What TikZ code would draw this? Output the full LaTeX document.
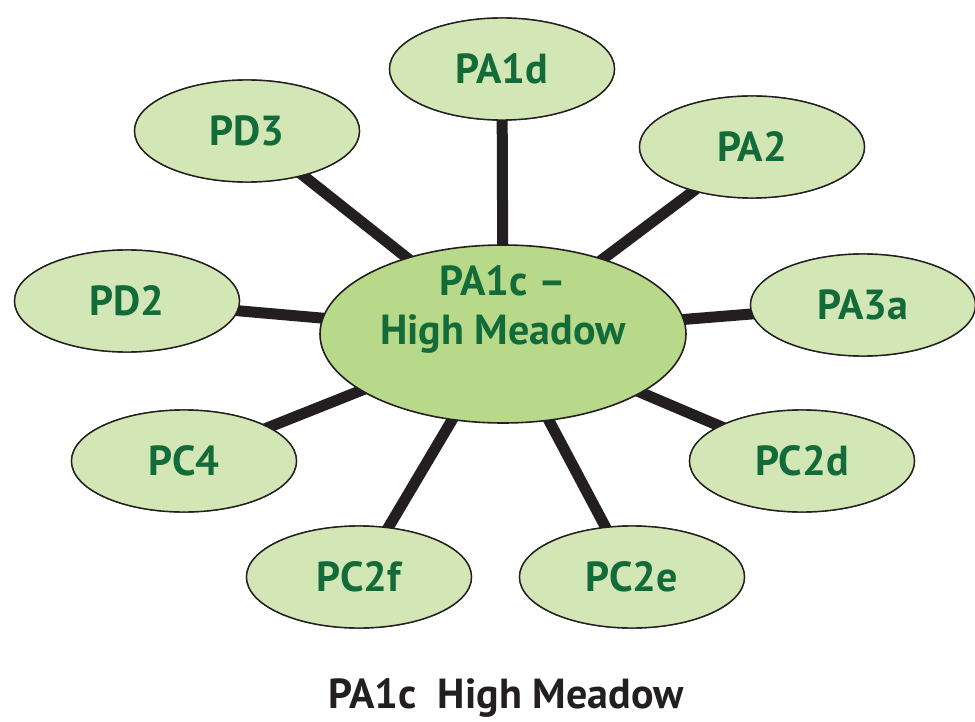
\documentclass[tikz,border=0pt]{standalone}
\usepackage{fontspec}
\setmainfont{PT Sans}
\usetikzlibrary{shapes.geometric}
\definecolor{leaffill}{HTML}{D3E6B5}
\definecolor{hubfill}{HTML}{B8D98A}
\definecolor{labelgreen}{HTML}{146B3A}
\definecolor{spoke}{HTML}{231F20}
\tikzset{
  outer/.style={ellipse, draw=spoke, line width=1.4pt, fill=leaffill,
    minimum width=225pt, minimum height=102pt, inner sep=0pt,
    font=\fontsize{42}{48}\selectfont\bfseries, text=labelgreen},
  hub/.style={ellipse, draw=spoke, line width=1.6pt, fill=hubfill,
    minimum width=366pt, minimum height=178pt, inner sep=0pt},
  hubtext/.style={align=center, font=\fontsize{42}{49}\selectfont\bfseries,
    text=labelgreen, inner sep=0pt},
  link/.style={draw=spoke, line width=11pt},
  caption/.style={font=\fontsize{42}{48}\selectfont\bfseries, text=spoke, inner sep=0pt}
}
\begin{document}
\begin{tikzpicture}[x=1pt,y=-1pt]
\useasboundingbox (0,0) rectangle (975,722);
% outer ring of areas
\node[outer] (pa1d) at (502,69) {PA1d};
\node[outer] (pd3)  at (247,131) {PD3};
\node[outer] (pa2)  at (752,147) {PA2};
\node[outer] (pd2)  at (127,301) {PD2};
\node[outer] (pa3a) at (863,305) {PA3a};
\node[outer] (pc4)  at (184,461) {PC4};
\node[outer] (pc2d) at (802,461) {PC2d};
\node[outer] (pc2f) at (359,577) {PC2f};
\node[outer] (pc2e) at (632,577) {PC2e};
% central area
\coordinate (mid) at (503,334);
% spokes from the centre to each outer area
\foreach \n in {pa1d,pd3,pa2,pd2,pa3a,pc4,pc2d,pc2f,pc2e}
  \path[link] (mid) -- (\n.center);
% redraw outer ellipses over the spokes
\node[outer] at (pa1d) {PA1d};
\node[outer] at (pd3) {PD3};
\node[outer] at (pa2) {PA2};
\node[outer] at (pd2) {PD2};
\node[outer] at (pa3a) {PA3a};
\node[outer] at (pc4) {PC4};
\node[outer] at (pc2d) {PC2d};
\node[outer] at (pc2f) {PC2f};
\node[outer] at (pc2e) {PC2e};
\node[hub] (hub) at (mid) {};
\node[hubtext] (hublabel) at (503,309) {PA1c --\\High Meadow};
\node[caption, anchor=base] (title) at (506,708) {PA1c\ \ High Meadow};
\end{tikzpicture}
\end{document}
